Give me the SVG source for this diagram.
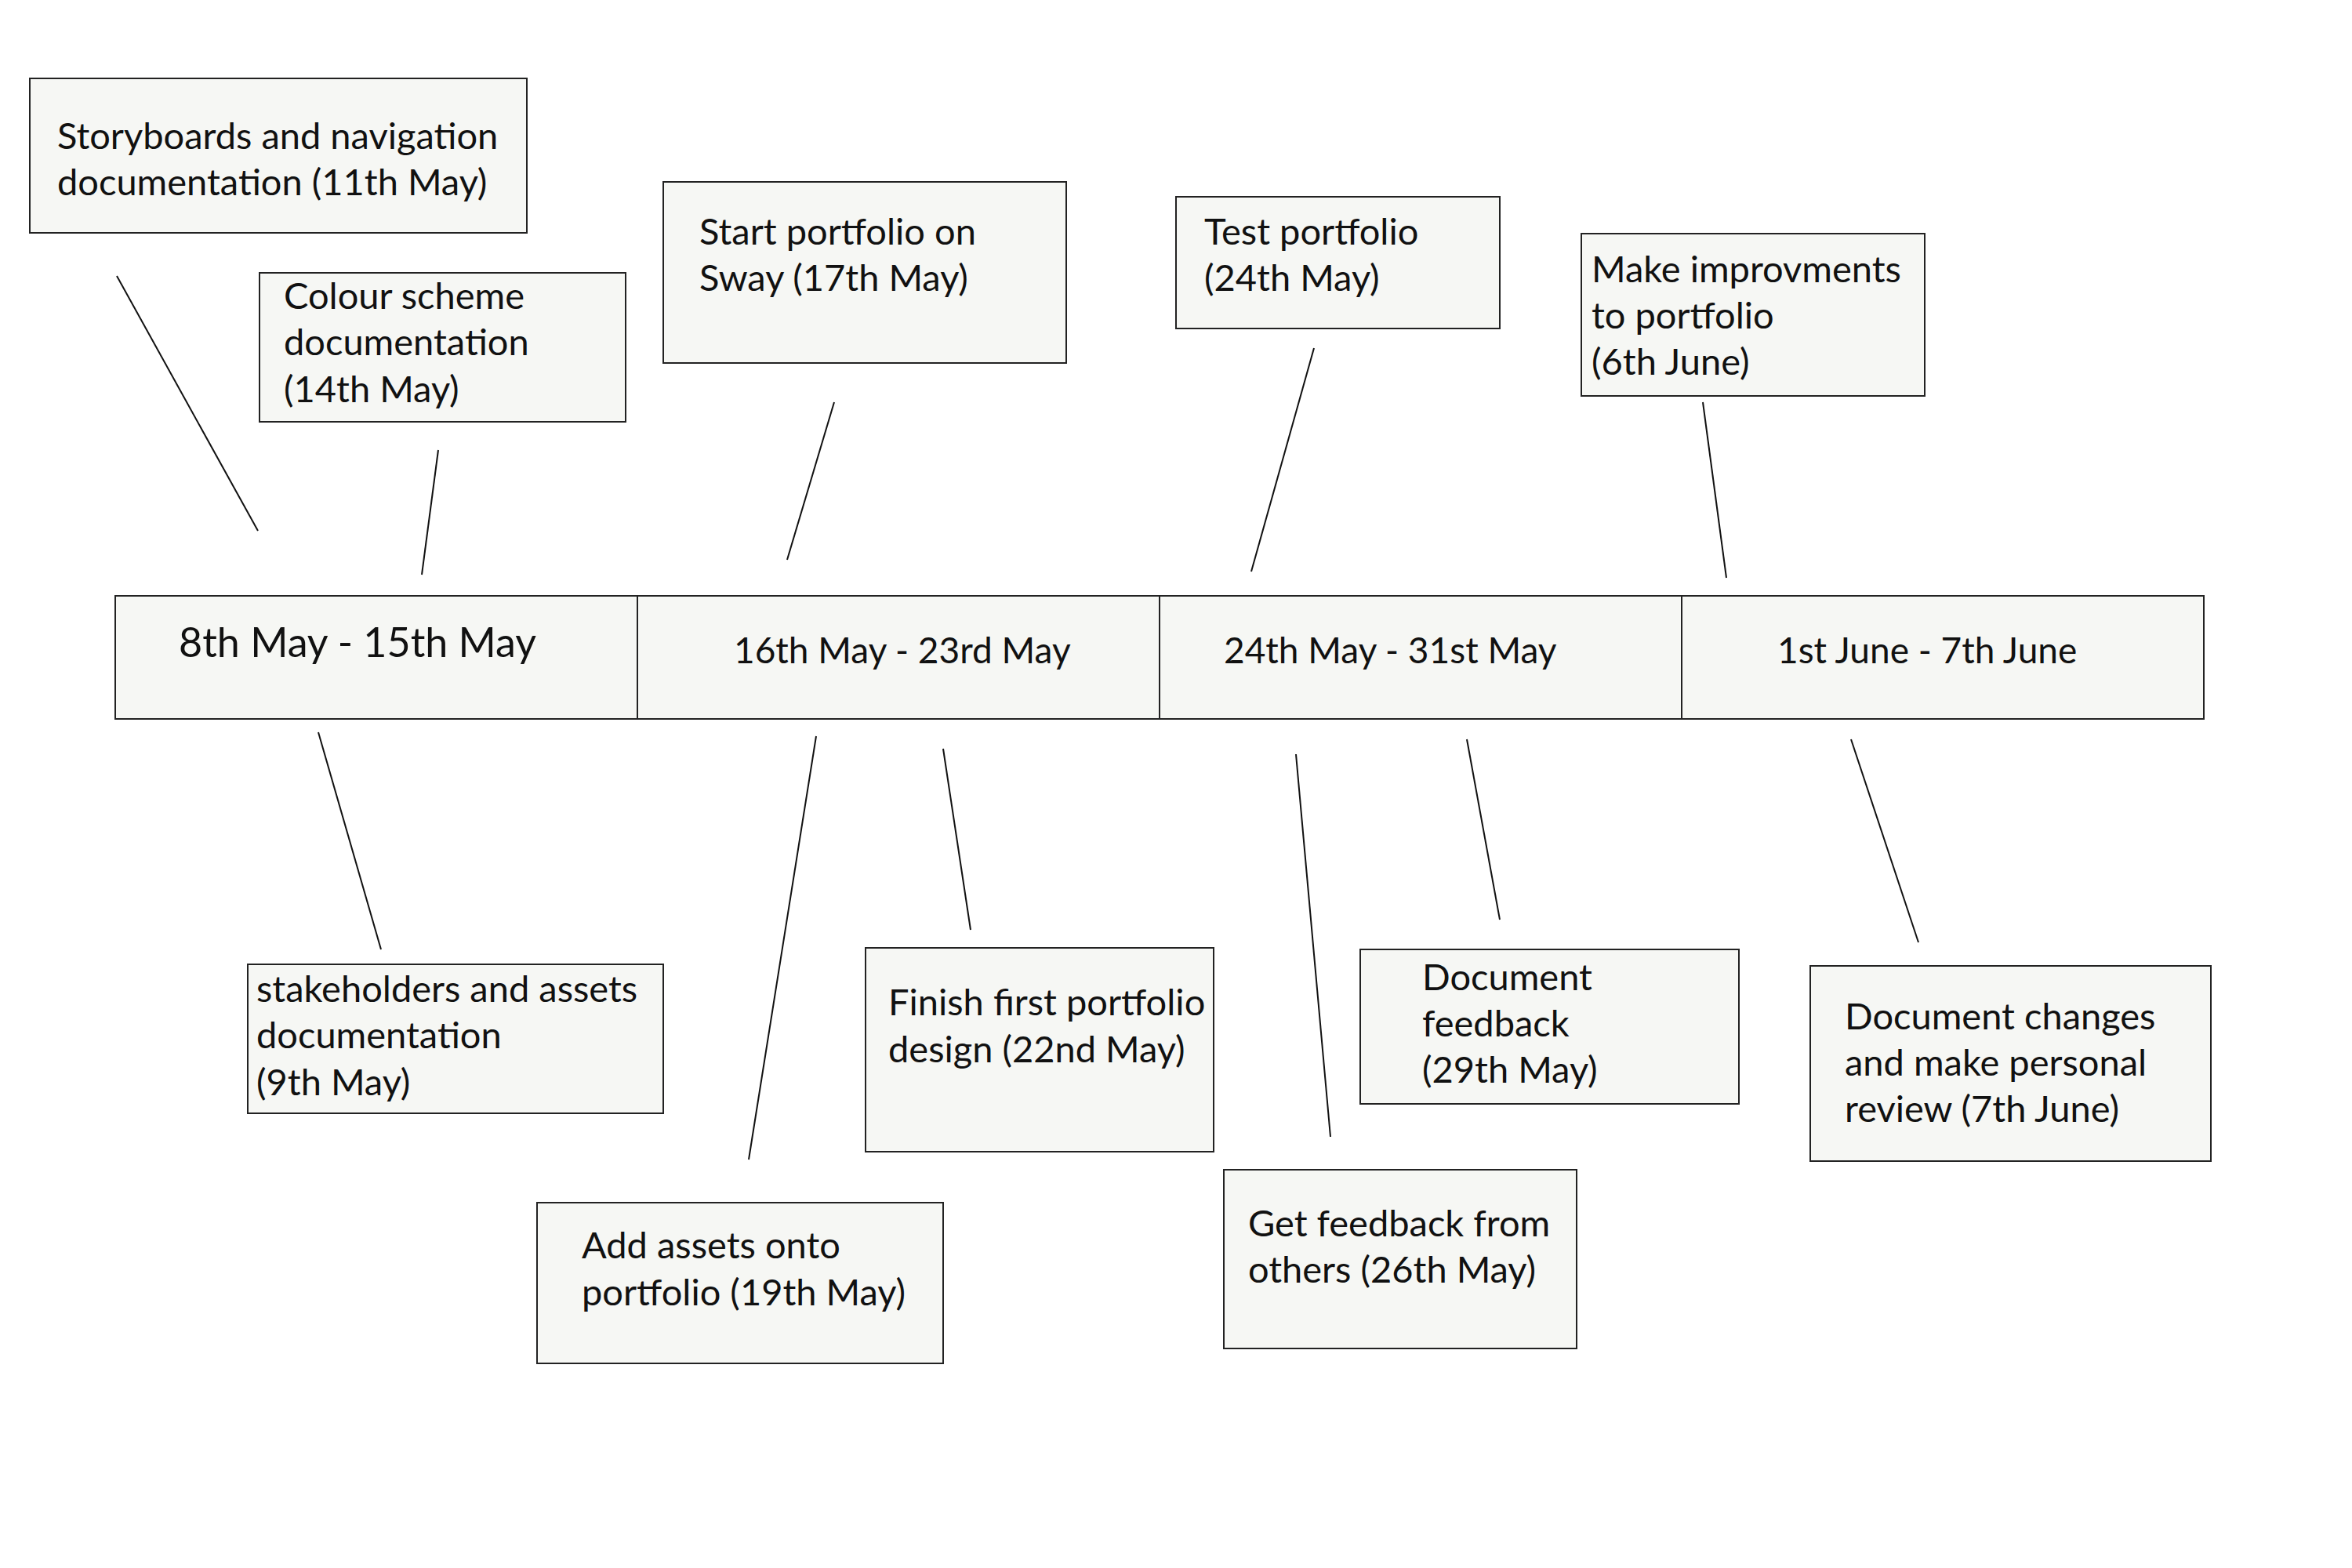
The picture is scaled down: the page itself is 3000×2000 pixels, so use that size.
<svg xmlns="http://www.w3.org/2000/svg" width="3000" height="2000" viewBox="0 0 3000 2000">
<style>
.box{fill:#f6f7f4;stroke:#222;stroke-width:2}
.t{font-family:Lato,"Liberation Sans",sans-serif;font-size:47px;fill:#111}
.tl{font-family:Lato,"Liberation Sans",sans-serif;font-size:46px;fill:#111}
.big{font-size:52px}
.ln{stroke:#111;stroke-width:2;fill:none}
</style>
<rect width="3000" height="2000" fill="#fff"/>
<g id="timeline">
<g id="week1"><rect class="box" x="147" y="760" width="666" height="157"/><text class="tl big" x="228" y="838">8th May - 15th May</text></g>
<g id="week2"><rect class="box" x="813" y="760" width="666" height="157"/><text class="tl" x="936" y="846">16th May - 23rd May</text></g>
<g id="week3"><rect class="box" x="1479" y="760" width="666" height="157"/><text class="tl" x="1561" y="846">24th May - 31st May</text></g>
<g id="week4"><rect class="box" x="2145" y="760" width="666" height="157"/><text class="tl" x="2267" y="846">1st June - 7th June</text></g>
</g>
<g id="n-storyboards"><rect class="box" x="38" y="100" width="634" height="197"/><text class="t" x="73"><tspan x="73" y="190">Storyboards and navigation</tspan><tspan x="73" y="249">documentation (11th May)</tspan></text></g>
<g id="n-colour"><rect class="box" x="331" y="348" width="467" height="190"/><text class="t"><tspan x="362" y="394">Colour scheme</tspan><tspan x="362" y="453">documentation</tspan><tspan x="362" y="513">(14th May)</tspan></text></g>
<g id="n-start"><rect class="box" x="846" y="232" width="514" height="231"/><text class="t"><tspan x="892" y="312">Start portfolio on</tspan><tspan x="892" y="371">Sway (17th May)</tspan></text></g>
<g id="n-test"><rect class="box" x="1500" y="251" width="413" height="168"/><text class="t"><tspan x="1536" y="312">Test portfolio</tspan><tspan x="1536" y="371">(24th May)</tspan></text></g>
<g id="n-improve"><rect class="box" x="2017" y="298" width="438" height="207"/><text class="t"><tspan x="2030" y="360">Make improvments</tspan><tspan x="2030" y="419">to portfolio</tspan><tspan x="2030" y="478">(6th June)</tspan></text></g>
<g id="n-stakeholders"><rect class="box" x="316" y="1230" width="530" height="190"/><text class="t"><tspan x="327" y="1278">stakeholders and assets</tspan><tspan x="327" y="1337">documentation</tspan><tspan x="327" y="1397">(9th May)</tspan></text></g>
<g id="n-addassets"><rect class="box" x="685" y="1534" width="518" height="205"/><text class="t"><tspan x="742" y="1605">Add assets onto</tspan><tspan x="742" y="1665">portfolio (19th May)</tspan></text></g>
<g id="n-finish"><rect class="box" x="1104" y="1209" width="444" height="260"/><text class="t"><tspan x="1133" y="1295">Finish first portfolio</tspan><tspan x="1133" y="1355">design (22nd May)</tspan></text></g>
<g id="n-getfeedback"><rect class="box" x="1561" y="1492" width="450" height="228"/><text class="t"><tspan x="1592" y="1577">Get feedback from</tspan><tspan x="1592" y="1636">others (26th May)</tspan></text></g>
<g id="n-docfeedback"><rect class="box" x="1735" y="1211" width="483" height="197"/><text class="t"><tspan x="1814" y="1263">Document</tspan><tspan x="1814" y="1322">feedback</tspan><tspan x="1814" y="1381">(29th May)</tspan></text></g>
<g id="n-docchanges"><rect class="box" x="2309" y="1232" width="511" height="249"/><text class="t"><tspan x="2353" y="1313">Document changes</tspan><tspan x="2353" y="1372">and make personal</tspan><tspan x="2353" y="1431">review (7th June)</tspan></text></g>
<g id="connectors">
<line class="ln" x1="149" y1="352" x2="329" y2="677"/>
<line class="ln" x1="559" y1="574" x2="538" y2="733"/>
<line class="ln" x1="1064" y1="513" x2="1004" y2="714"/>
<line class="ln" x1="1676" y1="444" x2="1596" y2="729"/>
<line class="ln" x1="2172" y1="513" x2="2202" y2="737"/>
<line class="ln" x1="406" y1="934" x2="486" y2="1211"/>
<line class="ln" x1="1041" y1="939" x2="955" y2="1479"/>
<line class="ln" x1="1203" y1="955" x2="1238" y2="1186"/>
<line class="ln" x1="1653" y1="962" x2="1697" y2="1450"/>
<line class="ln" x1="1871" y1="943" x2="1913" y2="1173"/>
<line class="ln" x1="2361" y1="943" x2="2447" y2="1202"/>
</g>
</svg>
